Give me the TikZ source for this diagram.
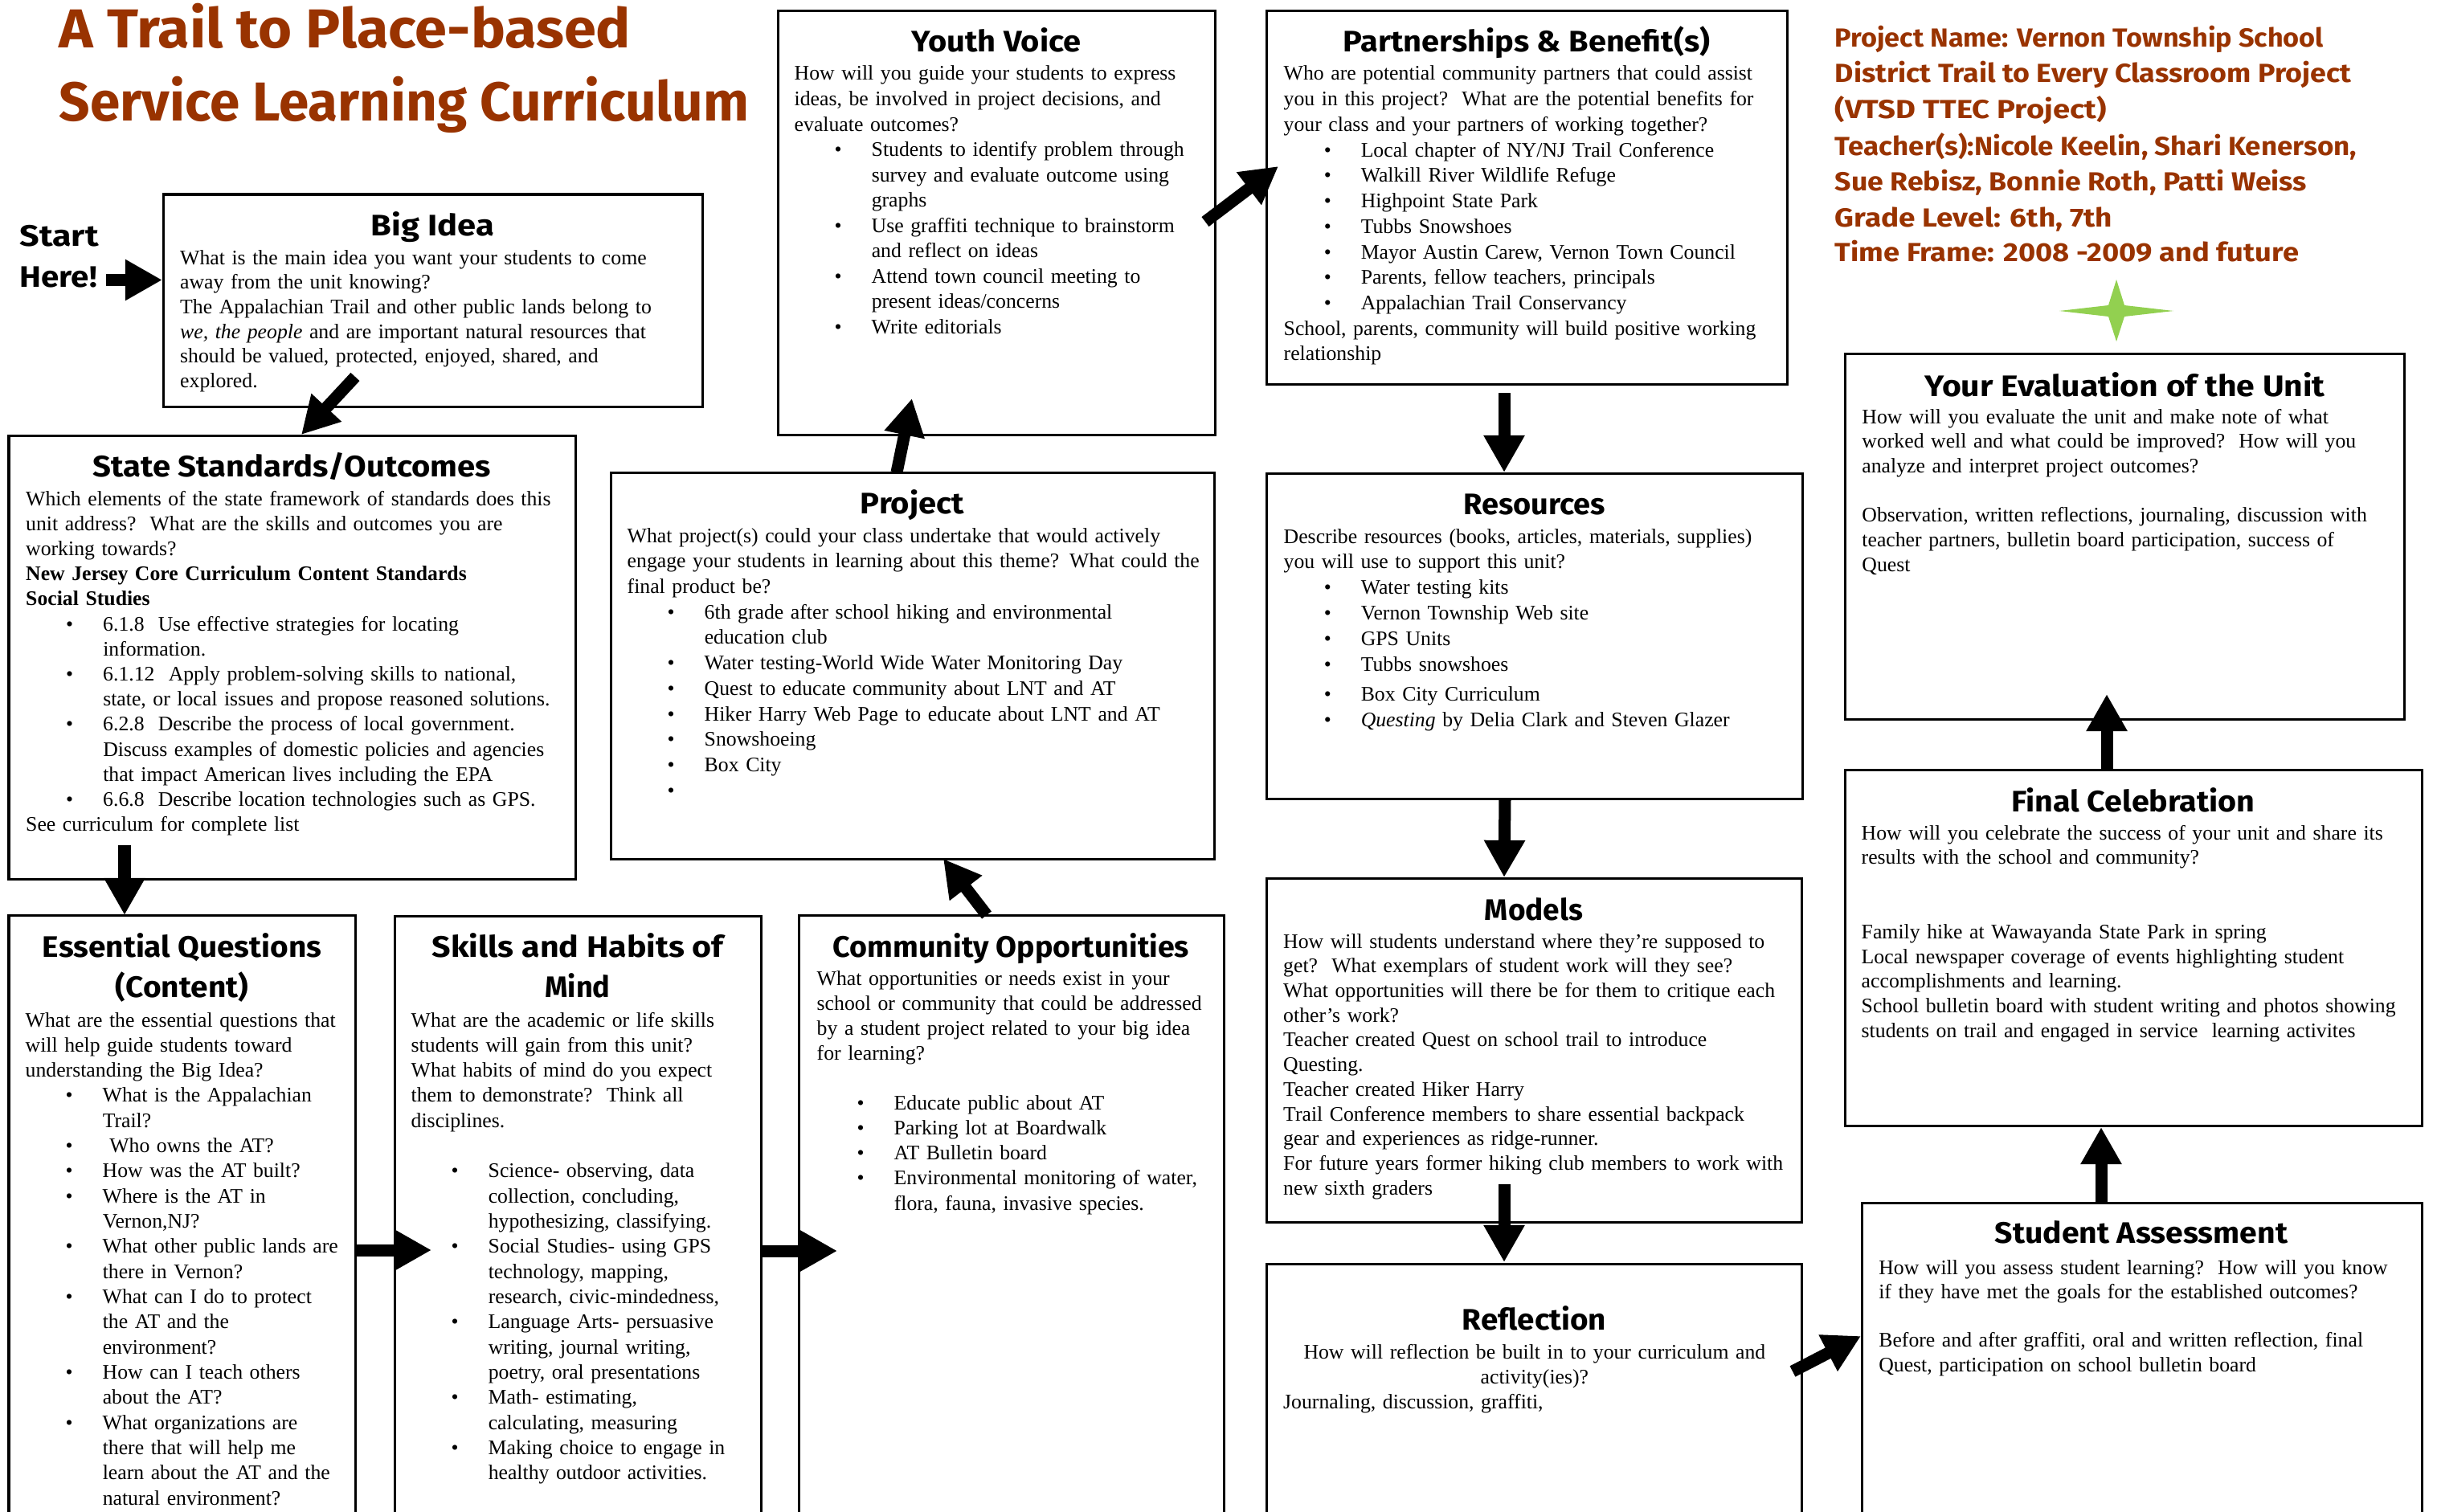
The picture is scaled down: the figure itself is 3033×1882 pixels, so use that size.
\documentclass[tikz,border=0pt]{standalone}
\usepackage{fontspec}
\setmainfont{Liberation Serif}
\newfontfamily\headfont{Fira Sans}
\usepackage{graphicx}
\usetikzlibrary{arrows.meta,fit}
\definecolor{rust}{HTML}{993300}
\definecolor{stargreen}{HTML}{92D050}
\newcommand\bu[1]{\hspace*{0.50cm}\makebox[0.46cm][l]{\textbullet}#1}
\newcommand\bc[1]{\hspace*{0.96cm}#1}
\newcommand\fitw[2]{\resizebox{#1}{\height}{#2}}
\begin{document}
\begin{tikzpicture}[x=0.01cm,y=-0.01cm,
  box/.style={draw, line width=0.03cm, inner sep=0pt},
  head/.style={font=\headfont\bfseries\fontsize{10.5pt}{12pt}\selectfont, anchor=base, inner sep=0pt},
  body/.style={font=\fontsize{7.32pt}{#1}\selectfont, anchor=base west, align=left, text width=8cm, inner sep=0pt},
  bigarrow/.style={line width=0.15cm, -{Triangle[width=0.48cm,length=0.46cm]}},
  titlet/.style={font=\headfont\bfseries\fontsize{19.4pt}{22pt}\selectfont, text=rust, anchor=base west, inner sep=0pt},
  projt/.style={font=\headfont\bfseries\fontsize{9.25pt}{11pt}\selectfont, text=rust, anchor=base west, inner sep=0pt},
  startt/.style={font=\headfont\bfseries\fontsize{10.5pt}{12pt}\selectfont, anchor=base west, inner sep=0pt}]
\useasboundingbox (0,0) rectangle (3033,1882);
\fill[white] (0,0) rectangle (3033,1882);
\clip (0,0) rectangle (3033,1882);

% ---------- boxes ----------
\node[box, fit={(203,242) (874,506)}] (bigidea) {};
\node[box, fit={(11,542) (716,1094)}] (ss) {};
\node[box, fit={(11,1139) (442,1950)}] (eq) {};
\node[box, fit={(491,1140) (947,1950)}] (skills) {};
\node[box, fit={(994,1139) (1523,1950)}] (comm) {};
\node[box, fit={(760,588) (1511,1069)}] (project) {};
\node[box, fit={(968,14) (1512,541)}] (youth) {};
\node[box, fit={(1576,14) (2224,478)}] (partner) {};
\node[box, fit={(1576,589) (2243,994)}] (resources) {};
\node[box, fit={(1576,1093) (2242,1521)}] (models) {};
\node[box, fit={(1576,1573) (2242,1950)}] (reflection) {};
\node[box, fit={(2296,440) (2992,895)}] (eval) {};
\node[box, fit={(2296,958) (3014,1401)}] (final) {};
\node[box, fit={(2317,1497) (3014,1950)}] (assess) {};

% ---------- title and project info ----------
\node[titlet] (title1) at (73,60) {\fitw{7.11cm}{A Trail to Place-based}};
\node[titlet] (title2) at (73,151) {\fitw{8.58cm}{Service Learning Curriculum}};
\node[projt] (p1) at (2283,58.5) {\fitw{6.08cm}{Project Name: Vernon Township School}};
\node[projt] (p2) at (2283,103) {\fitw{6.42cm}{District Trail to Every Classroom Project}};
\node[projt] (p3) at (2283,148) {\fitw{3.38cm}{(VTSD TTEC Project)}};
\node[projt] (p4) at (2283,193) {\fitw{6.49cm}{Teacher(s):Nicole Keelin, Shari Kenerson,}};
\node[projt] (p5) at (2283,237.6) {\fitw{5.87cm}{Sue Rebisz, Bonnie Roth, Patti Weiss}};
\node[projt] (p6) at (2283,282) {\fitw{3.45cm}{Grade Level: 6th, 7th}};
\node[projt] (p7) at (2283,325.5) {\fitw{5.77cm}{Time Frame: 2008 -2009 and future}};
\fill[stargreen] (2705,387) -- (2644,380) -- (2634,348) -- (2624,380) -- (2563,387)
  -- (2624,394) -- (2634,425) -- (2644,394) -- cycle;
\node[startt] (start1) at (24,306) {\fitw{0.98cm}{Start}};
\node[startt] (start2) at (24,357.6) {\fitw{0.96cm}{Here!}};

% ---------- headings ----------
\node[head] (bigidea-h) at (538.5,294) {\fitw{1.53cm}{Big Idea}};
\node[head] (ss-h) at (363.5,593) {\fitw{4.95cm}{State Standards/Outcomes}};
\node[head] (eq-h1) at (226.5,1191) {\fitw{3.47cm}{Essential Questions}};
\node[head] (eq-h2) at (226.5,1241.5) {\fitw{1.65cm}{(Content)}};
\node[head] (skills-h1) at (719,1191) {\fitw{3.625cm}{Skills and Habits of}};
\node[head] (skills-h2) at (719,1241.5) {\fitw{0.81cm}{Mind}};
\node[head] (comm-h) at (1258.5,1191) {\fitw{4.43cm}{Community Opportunities}};
\node[head] (project-h) at (1135.5,639) {\fitw{1.29cm}{Project}};
\node[head] (youth-h) at (1240,65) {\fitw{2.11cm}{Youth Voice}};
\node[head] (partner-h) at (1900,65) {\fitw{4.56cm}{Partnerships \& Benefit(s)}};
\node[head] (resources-h) at (1909.5,640) {\fitw{1.765cm}{Resources}};
\node[head] (models-h) at (1909,1145) {\fitw{1.22cm}{Models}};
\node[head] (reflection-h) at (1909.5,1655) {\fitw{1.79cm}{Reflection}};
\node[head] (eval-h) at (2644.5,493) {\fitw{4.98cm}{Your Evaluation of the Unit}};
\node[head] (final-h) at (2655,1010) {\fitw{3.03cm}{Final Celebration}};
\node[head] (assess-h) at (2665,1547) {\fitw{3.64cm}{Student Assessment}};

% ---------- body texts ----------
\node[body=8.735pt] (bigidea-t) at (223.5,329) {What is the main idea you want your students to come\\
away from the unit knowing?\\
The Appalachian Trail and other public lands belong to\\
\textit{we, the people} and are important natural resources that\\
should be valued, protected, enjoyed, shared, and\\
explored.};

\node[body=8.877pt] (ss-t) at (31.5,629) {Which elements of the state framework of standards does this\\
unit address?\ \ What are the skills and outcomes you are\\
working towards?\\
\textbf{New Jersey Core Curriculum Content Standards}\\
\textbf{Social Studies}\\
\bu{6.1.8\ \ Use effective strategies for locating}\\
\bc{information.}\\
\bu{6.1.12\ \ Apply problem-solving skills to national,}\\
\bc{state, or local issues and propose reasoned solutions.}\\
\bu{6.2.8\ \ Describe the process of local government.}\\
\bc{Discuss examples of domestic policies and agencies}\\
\bc{that impact American lives including the EPA}\\
\bu{6.6.8\ \ Describe location technologies such as GPS.}\\
See curriculum for complete list};

\node[body=8.906pt] (eq-t) at (31,1278) {What are the essential questions that\\
will help guide students toward\\
understanding the Big Idea?\\
\bu{What is the Appalachian}\\
\bc{Trail?}\\
\bu{\ Who owns the AT?}\\
\bu{How was the AT built?}\\
\bu{Where is the AT in}\\
\bc{Vernon,NJ?}\\
\bu{What other public lands are}\\
\bc{there in Vernon?}\\
\bu{What can I do to protect}\\
\bc{the AT and the}\\
\bc{environment?}\\
\bu{How can I teach others}\\
\bc{about the AT?}\\
\bu{What organizations are}\\
\bc{there that will help me}\\
\bc{learn about the AT and the}\\
\bc{natural environment?}};

\node[body=8.906pt] (skills-t) at (511,1278) {What are the academic or life skills\\
students will gain from this unit?\\
What habits of mind do you expect\\
them to demonstrate?\ \ Think all\\
disciplines.\\
\mbox{}\\
\bu{Science- observing, data}\\
\bc{collection, concluding,}\\
\bc{hypothesizing, classifying.}\\
\bu{Social Studies- using GPS}\\
\bc{technology, mapping,}\\
\bc{research, civic-mindedness,}\\
\bu{Language Arts- persuasive}\\
\bc{writing, journal writing,}\\
\bc{poetry, oral presentations}\\
\bu{Math- estimating,}\\
\bc{calculating, measuring}\\
\bu{Making choice to engage in}\\
\bc{healthy outdoor activities.}};

\node[body=8.849pt] (comm-t) at (1016,1226) {What opportunities or needs exist in your\\
school or community that could be addressed\\
by a student project related to your big idea\\
for learning?\\
\mbox{}\\
\bu{Educate public about AT}\\
\bu{Parking lot at Boardwalk}\\
\bu{AT Bulletin board}\\
\bu{Environmental monitoring of water,}\\
\bc{flora, fauna, invasive species.}};

\node[body=9.02pt] (project-t) at (780,675) {What project(s) could your class undertake that would actively\\
engage your students in learning about this theme? What could the\\
final product be?\\
\bu{6th grade after school hiking and environmental}\\
\bc{education club}\\
\bu{Water testing-World Wide Water Monitoring Day}\\
\bu{Quest to educate community about LNT and AT}\\
\bu{Hiker Harry Web Page to educate about LNT and AT}\\
\bu{Snowshoeing}\\
\bu{Box City}\\
\bu{}};

\node[body=8.963pt] (youth-t) at (988,100) {How will you guide your students to express\\
ideas, be involved in project decisions, and\\
evaluate outcomes?\\
\bu{Students to identify problem through}\\
\bc{survey and evaluate outcome using}\\
\bc{graphs}\\
\bu{Use graffiti technique to brainstorm}\\
\bc{and reflect on ideas}\\
\bu{Attend town council meeting to}\\
\bc{present ideas/concerns}\\
\bu{Write editorials}};

\node[body=9.02pt] (partner-t) at (1597,100) {Who are potential community partners that could assist\\
you in this project?\ \ What are the potential benefits for\\
your class and your partners of working together?\\
\bu{Local chapter of NY/NJ Trail Conference}\\
\bu{Walkill River Wildlife Refuge}\\
\bu{Highpoint State Park}\\
\bu{Tubbs Snowshoes}\\
\bu{Mayor Austin Carew, Vernon Town Council}\\
\bu{Parents, fellow teachers, principals}\\
\bu{Appalachian Trail Conservancy}\\
School, parents, community will build positive working\\
relationship};

\node[body=9.048pt] (resources-t) at (1597,676) {Describe resources (books, articles, materials, supplies)\\
you will use to support this unit?\\
\bu{Water testing kits}\\
\bu{Vernon Township Web site}\\
\bu{GPS Units}\\
\bu{Tubbs snowshoes}\\[1.6pt]
\bu{Box City Curriculum}\\
\bu{\textit{Questing} by Delia Clark and Steven Glazer}};

\node[body=8.735pt] (models-t) at (1596.5,1180) {How will students understand where they’re supposed to\\
get?\ \ What exemplars of student work will they see?\\
What opportunities will there be for them to critique each\\
other’s work?\\
Teacher created Quest on school trail to introduce\\
Questing.\\
Teacher created Hiker Harry\\
Trail Conference members to share essential backpack\\
gear and experiences as ridge-runner.\\
For future years former hiking club members to work with\\
new sixth graders};

\node[body=8.82pt] (reflection-t) at (1596.5,1691) {\makebox[6.25cm][c]{How will reflection be built in to your curriculum and}\\
\makebox[6.25cm][c]{activity(ies)?}\\
Journaling, discussion, graffiti,};

\node[body=8.735pt] (eval-t) at (2316.7,527) {How will you evaluate the unit and make note of what\\
worked well and what could be improved?\ \ How will you\\
analyze and interpret project outcomes?\\
\mbox{}\\
Observation, written reflections, journaling, discussion with\\
teacher partners, bulletin board participation, success of\\
Quest};

\node[body=8.764pt] (final-t) at (2316,1045) {How will you celebrate the success of your unit and share its\\
results with the school and community?\\
\mbox{}\\
\mbox{}\\
Family hike at Wawayanda State Park in spring\\
Local newspaper coverage of events highlighting student\\
accomplishments and learning.\\
School bulletin board with student writing and photos showing\\
students on trail and engaged in service\ \ learning activites};

\node[body=8.621pt] (assess-t) at (2337.6,1586) {How will you assess student learning?\ \ How will you know\\
if they have met the goals for the established outcomes?\\
\mbox{}\\
Before and after graffiti, oral and written reflection, final\\
Quest, participation on school bulletin board};

% ---------- arrows ----------
\coordinate (a1s) at (132,348.5);   \coordinate (a1e) at (202,348.5);
\coordinate (a2s) at (442,469);     \coordinate (a2e) at (375,541);
\coordinate (a3s) at (155,1052);    \coordinate (a3e) at (155,1139);
\coordinate (a4s) at (442,1556);    \coordinate (a4e) at (537,1556);
\coordinate (a5s) at (947,1557);    \coordinate (a5e) at (1042,1557);
\coordinate (a6s) at (1228,1139);   \coordinate (a6e) at (1174,1069);
\coordinate (a7s) at (1116,588);    \coordinate (a7e) at (1135,496);
\coordinate (a8s) at (1500,276);    \coordinate (a8e) at (1591,207);
\coordinate (a9s) at (1872,489);    \coordinate (a9e) at (1872,588);
\coordinate (a10s) at (1873,994);   \coordinate (a10e) at (1872,1092);
\coordinate (a11s) at (1872,1474);  \coordinate (a11e) at (1872,1571);
\coordinate (a12s) at (2231,1707);  \coordinate (a12e) at (2316,1663);
\coordinate (a13s) at (2615,1497);  \coordinate (a13e) at (2615,1403);
\coordinate (a14s) at (2622,958);   \coordinate (a14e) at (2622,864);
\foreach \i in {1,...,14} {\draw[bigarrow] (a\i s) -- (a\i e);}
\end{tikzpicture}
\end{document}
